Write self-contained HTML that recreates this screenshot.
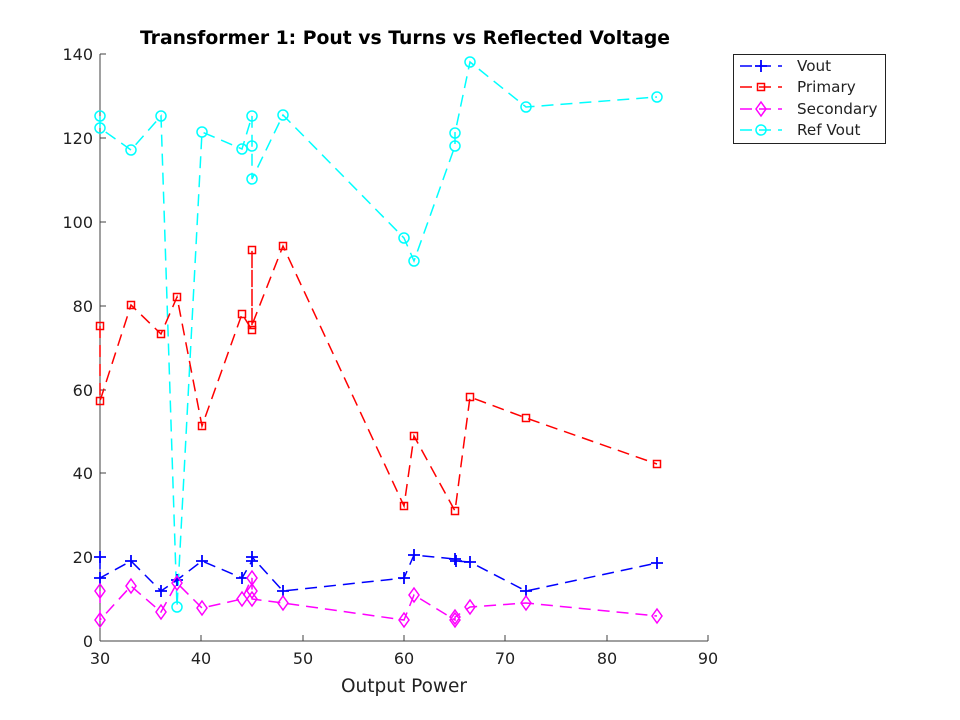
<!DOCTYPE html>
<html><head><meta charset="utf-8"><style>body{margin:0;background:#fff}svg{display:block}text{font-family:"DejaVu Sans","Liberation Sans",sans-serif}</style></head><body>
<svg width="960" height="720" xmlns="http://www.w3.org/2000/svg">
<rect width="960" height="720" fill="#fff"/>
<text x="405" y="44" font-size="18.8" font-weight="bold" text-anchor="middle">Transformer 1: Pout vs Turns vs Reflected Voltage</text>
<g stroke="#404040" stroke-width="1" fill="none">
<line x1="100" y1="54" x2="100" y2="641"/><line x1="100" y1="641" x2="708" y2="641"/>
<line x1="201" y1="641" x2="201" y2="635"/><line x1="303" y1="641" x2="303" y2="635"/><line x1="404" y1="641" x2="404" y2="635"/><line x1="505" y1="641" x2="505" y2="635"/><line x1="607" y1="641" x2="607" y2="635"/><line x1="708" y1="641" x2="708" y2="635"/>
<line x1="100" y1="557" x2="106" y2="557"/><line x1="100" y1="473" x2="106" y2="473"/><line x1="100" y1="390" x2="106" y2="390"/><line x1="100" y1="306" x2="106" y2="306"/><line x1="100" y1="222" x2="106" y2="222"/><line x1="100" y1="138" x2="106" y2="138"/><line x1="100" y1="54" x2="106" y2="54"/>
</g>
<g font-size="16" fill="#222" text-anchor="middle">
<text x="100" y="664">30</text><text x="201" y="664">40</text><text x="303" y="664">50</text><text x="404" y="664">60</text><text x="505" y="664">70</text><text x="607" y="664">80</text><text x="708" y="664">90</text>
</g>
<g font-size="16" fill="#222" text-anchor="end">
<text x="93" y="647">0</text><text x="93" y="563">20</text><text x="93" y="479">40</text><text x="93" y="396">60</text><text x="93" y="312">80</text><text x="93" y="228">100</text><text x="93" y="144">120</text><text x="93" y="60">140</text>
</g>
<text x="404" y="692" font-size="18.5" fill="#222" text-anchor="middle">Output Power</text>

<g fill="none" stroke-width="1.5" stroke-dasharray="12,7">
<polyline stroke="#00ffff" points="100,116 100,128 131,150 161,116 177,607 202,132 242,149 252,116 252,146 252,179 283,115 404,238 414,261 455,146 455,133 470,62 526,107 657,97"/>
<polyline stroke="#ff0000" points="100,326 100,401 131,305 161,334 177,297 202,426 242,314 252,330 252,250 252,325 283,246 404,506 414,436 455,511 470,397 526,418 657,464"/>
<polyline stroke="#0000ff" points="100,557 100,578 131,561 161,591 177,580 202,561 242,578 252,561 252,557 283,591 404,578 414,555 455,559 456,561 470,562 526,591 657,563"/>
<polyline stroke="#ff00ff" points="100,591 100,620 131,586 161,612 177,583 202,608 242,599 252,578 252,591 252,599 283,603 404,620 414,595 455,620 455,617 470,607 526,603 657,616"/>
</g>
<g fill="none" stroke="#00ffff" stroke-width="1.5">
<circle cx="100" cy="116" r="5"/><circle cx="100" cy="128" r="5"/><circle cx="131" cy="150" r="5"/><circle cx="161" cy="116" r="5"/><circle cx="177" cy="607" r="5"/><circle cx="202" cy="132" r="5"/><circle cx="242" cy="149" r="5"/><circle cx="252" cy="116" r="5"/><circle cx="252" cy="146" r="5"/><circle cx="252" cy="179" r="5"/><circle cx="283" cy="115" r="5"/><circle cx="404" cy="238" r="5"/><circle cx="414" cy="261" r="5"/><circle cx="455" cy="146" r="5"/><circle cx="455" cy="133" r="5"/><circle cx="470" cy="62" r="5"/><circle cx="526" cy="107" r="5"/><circle cx="657" cy="97" r="5"/>
</g>
<g fill="none" stroke="#ff0000" stroke-width="1.5">
<rect x="96.5" y="322.5" width="7" height="7"/><rect x="96.5" y="397.5" width="7" height="7"/><rect x="127.5" y="301.5" width="7" height="7"/><rect x="157.5" y="330.5" width="7" height="7"/><rect x="173.5" y="293.5" width="7" height="7"/><rect x="198.5" y="422.5" width="7" height="7"/><rect x="238.5" y="310.5" width="7" height="7"/><rect x="248.5" y="326.5" width="7" height="7"/><rect x="248.5" y="246.5" width="7" height="7"/><rect x="248.5" y="321.5" width="7" height="7"/><rect x="279.5" y="242.5" width="7" height="7"/><rect x="400.5" y="502.5" width="7" height="7"/><rect x="410.5" y="432.5" width="7" height="7"/><rect x="451.5" y="507.5" width="7" height="7"/><rect x="466.5" y="393.5" width="7" height="7"/><rect x="522.5" y="414.5" width="7" height="7"/><rect x="653.5" y="460.5" width="7" height="7"/>
</g>
<g stroke="#0000ff" stroke-width="1.8" fill="none">
<path d="M94,557h12M100,551v12 M94,578h12M100,572v12 M125,561h12M131,555v12 M155,591h12M161,585v12 M171,580h12M177,574v12 M196,561h12M202,555v12 M236,578h12M242,572v12 M246,561h12M252,555v12 M246,557h12M252,551v12 M277,591h12M283,585v12 M398,578h12M404,572v12 M408,555h12M414,549v12 M449,559h12M455,553v12 M450,561h12M456,555v12 M464,562h12M470,556v12 M520,591h12M526,585v12 M651,563h12M657,557v12"/>
</g>
<g stroke="#ff00ff" stroke-width="1.5" fill="none">
<path d="M100,584l5,7l-5,7l-5,-7z M100,613l5,7l-5,7l-5,-7z M131,579l5,7l-5,7l-5,-7z M161,605l5,7l-5,7l-5,-7z M177,576l5,7l-5,7l-5,-7z M202,601l5,7l-5,7l-5,-7z M242,592l5,7l-5,7l-5,-7z M252,571l5,7l-5,7l-5,-7z M252,584l5,7l-5,7l-5,-7z M252,592l5,7l-5,7l-5,-7z M283,596l5,7l-5,7l-5,-7z M404,613l5,7l-5,7l-5,-7z M414,588l5,7l-5,7l-5,-7z M455,613l5,7l-5,7l-5,-7z M455,610l5,7l-5,7l-5,-7z M470,600l5,7l-5,7l-5,-7z M526,596l5,7l-5,7l-5,-7z M657,609l5,7l-5,7l-5,-7z"/>
</g>

<rect x="733.5" y="54.5" width="152" height="89" fill="#fff" stroke="#222" stroke-width="1"/>
<g stroke-width="1.5" fill="none">
<line x1="740" y1="66" x2="782" y2="66" stroke="#0000ff" stroke-dasharray="12,7"/><path d="M755,66h12M761,60v12" stroke="#0000ff" stroke-width="1.8"/>
<line x1="740" y1="87" x2="782" y2="87" stroke="#ff0000" stroke-dasharray="12,7"/><rect x="757.5" y="83.5" width="7" height="7" stroke="#ff0000"/>
<line x1="740" y1="109" x2="782" y2="109" stroke="#ff00ff" stroke-dasharray="12,7"/><path d="M761,102l5,7l-5,7l-5,-7z" stroke="#ff00ff"/>
<line x1="740" y1="130" x2="782" y2="130" stroke="#00ffff" stroke-dasharray="12,7"/><circle cx="761" cy="130" r="5" stroke="#00ffff"/>
</g>
<g font-size="15.2" fill="#222">
<text x="797" y="71">Vout</text><text x="797" y="92">Primary</text><text x="797" y="114">Secondary</text><text x="797" y="135">Ref Vout</text>
</g>
</svg>
</body></html>
